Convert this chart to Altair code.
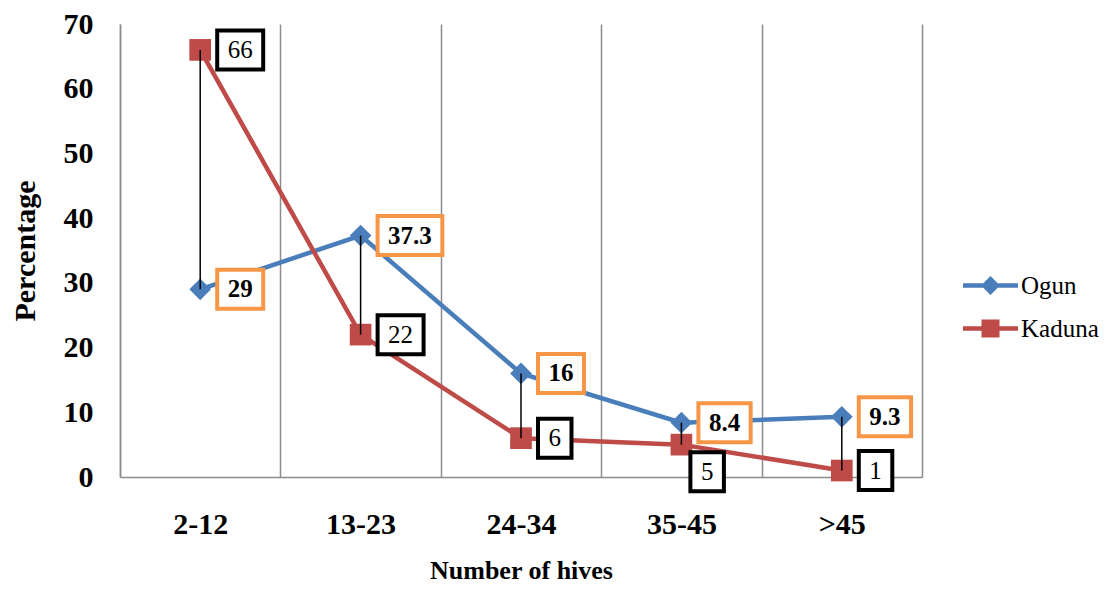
import altair as alt
import pandas as pd

categories = ["2-12", "13-23", "24-34", "35-45", ">45"]
series_names = ["Ogun", "Kaduna"]
ogun = [29, 37.3, 16, 8.4, 9.3]
kaduna = [66, 22, 6, 5, 1]
ogun_labels = ["29", "37.3", "16", "8.4", "9.3"]
kaduna_labels = ["66", "22", "6", "5", "1"]
kaduna_label_side = ["right", "right", "right", "below", "right"]
y_ticks = [0, 10, 20, 30, 40, 50, 60, 70]

BLUE = "#4A7EBB"
RED = "#BE4B48"
ORANGE = "#F79646"
GRID = "#8C8C8C"
FONT = "Liberation Serif"
LABEL_FS = 25


def text_w(s):
    return sum(0.25 if c == "." else 0.5 for c in s) * LABEL_FS


def box_path(label, left, cy):
    w = text_w(label) + 21
    return f"M{left},{cy - 19.5}H{left + w}V{cy + 19.5}H{left}Z"


rows = []
for i, c in enumerate(categories):
    rows.append(dict(cat=c, series="Ogun", value=ogun[i], label=ogun_labels[i],
                     side="right", box=ORANGE, path=box_path(ogun_labels[i], 17, 0)))
    side = kaduna_label_side[i]
    if side == "below":
        p = box_path(kaduna_labels[i], 9, 27)
    else:
        p = box_path(kaduna_labels[i], 17, 0)
    rows.append(dict(cat=c, series="Kaduna", value=kaduna[i], label=kaduna_labels[i],
                     side=side, box="black", path=p))
df = pd.DataFrame(rows)
wide = pd.DataFrame(dict(cat=categories, ogun=ogun, kaduna=kaduna))

x_scale = alt.Scale(type="band", paddingInner=0, paddingOuter=0)
x_enc = alt.X(
    "cat:N", sort=categories, title="Number of hives",
    scale=x_scale,
    axis=alt.Axis(
        tickBand="extent", grid=True, gridColor=GRID, gridWidth=1.5,
        ticks=False, domainColor=GRID, domainWidth=1.5,
        labelFont=FONT, labelFontSize=30, labelFontWeight="bold", labelColor="black",
        labelPadding=32, labelAngle=0,
        titleFont=FONT, titleFontSize=26, titleFontWeight="bold", titleColor="black",
        titlePadding=18,
    ),
)
y_enc = alt.Y(
    "value:Q", title="Percentage",
    scale=alt.Scale(domain=[0, 70], nice=False, zero=True),
    axis=alt.Axis(
        values=y_ticks, grid=False, ticks=False, domainColor=GRID, domainWidth=1.5,
        labelFont=FONT, labelFontSize=30, labelFontWeight="bold", labelColor="black",
        labelPadding=27,
        titleFont=FONT, titleFontSize=30, titleFontWeight="bold", titleColor="black",
        titlePadding=23,
    ),
)

base = alt.Chart(df)

line_ogun = base.transform_filter("datum.series == 'Ogun'").mark_line(
    strokeWidth=4.5, color=BLUE).encode(x=x_enc, y=y_enc)
line_kad = base.transform_filter("datum.series == 'Kaduna'").mark_line(
    strokeWidth=4.5, color=RED).encode(x=x_enc, y=y_enc)

pt_ogun = base.transform_filter("datum.series == 'Ogun'").mark_point(
    shape="diamond", size=470, filled=True, opacity=1, color=BLUE).encode(x=x_enc, y=y_enc)
pt_kad = base.transform_filter("datum.series == 'Kaduna'").mark_point(
    shape="square", size=470, filled=True, opacity=1, color=RED).encode(x=x_enc, y=y_enc)

rules = alt.Chart(wide).mark_rule(color="black", strokeWidth=1.5).encode(
    x=alt.X("cat:N", sort=categories, scale=x_scale),
    y=alt.Y("ogun:Q"), y2=alt.Y2("kaduna:Q"))

boxes = base.mark_point(filled=True, fill="white", strokeWidth=4, size=4, opacity=1).encode(
    x=x_enc, y=y_enc,
    shape=alt.Shape("path:N", scale=None),
    stroke=alt.Stroke("box:N", scale=None),
)

txt_ogun = base.transform_filter("datum.series == 'Ogun'").mark_text(
    align="left", baseline="middle", dx=27.5, font=FONT, fontSize=LABEL_FS,
    fontWeight="bold", color="black").encode(x=x_enc, y=y_enc, text="label:N")
txt_kad = base.transform_filter("datum.series == 'Kaduna' && datum.side == 'right'").mark_text(
    align="left", baseline="middle", dx=27.5, font=FONT, fontSize=LABEL_FS,
    fontWeight="normal", color="black").encode(x=x_enc, y=y_enc, text="label:N")
txt_kad_below = base.transform_filter("datum.series == 'Kaduna' && datum.side == 'below'").mark_text(
    align="left", baseline="middle", dx=19.5, dy=27, font=FONT, fontSize=LABEL_FS,
    fontWeight="normal", color="black").encode(x=x_enc, y=y_enc, text="label:N")

leg_ogun = "M-2.75,-0.22H2.75V0.22H-2.75Z M0,-0.95L0.95,0L0,0.95L-0.95,0Z"
leg_kad = "M-2.75,-0.22H2.75V0.22H-2.75Z M-0.9,-0.9H0.9V0.9H-0.9Z"
leg_props = dict(orient="none", legendX=858, legendY=249, title=None,
                 labelFont=FONT, labelFontSize=25, labelColor="black",
                 symbolSize=400, symbolStrokeWidth=0, labelOffset=18,
                 rowPadding=17, padding=0, symbolOpacity=1)
legend_layer = base.transform_filter("datum.value < 0").mark_point(filled=True, opacity=1).encode(
    x=x_enc, y=y_enc,
    color=alt.Color("series:N", scale=alt.Scale(domain=series_names, range=[BLUE, RED]),
                    legend=alt.Legend(**leg_props)),
    shape=alt.Shape("series:N", scale=alt.Scale(domain=series_names, range=[leg_ogun, leg_kad]),
                    legend=alt.Legend(**leg_props)),
)

chart = alt.layer(
    line_ogun, line_kad, pt_ogun, pt_kad, rules, boxes, txt_ogun, txt_kad, txt_kad_below, legend_layer
).properties(
    width=802, height=453,
    padding={"left": 112, "top": 16, "right": 183, "bottom": 107},
    autosize=alt.AutoSizeParams(type="none"),
    background="white",
).configure_view(stroke=None)

chart.save("out.html", embed_options={"renderer": "svg", "actions": False})
